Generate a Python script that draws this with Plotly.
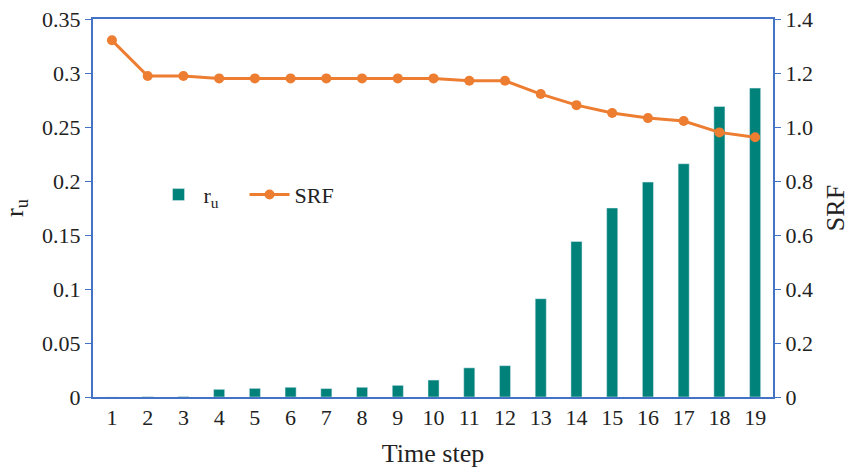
import plotly.graph_objects as go

steps = list(range(1, 20))
ru = [0.0, 0.0003, 0.0005, 0.0071, 0.008, 0.009, 0.0078, 0.009, 0.0108, 0.0157,
      0.027, 0.029, 0.091, 0.144, 0.175, 0.199, 0.216, 0.269, 0.286]
srf = [1.321, 1.189, 1.189, 1.180, 1.180, 1.180, 1.180, 1.180, 1.180, 1.180,
       1.171, 1.171, 1.122, 1.081, 1.052, 1.033, 1.022, 0.980, 0.962]

left_ticks = [0, 0.05, 0.1, 0.15, 0.2, 0.25, 0.3, 0.35]
left_text = ["0", "0.05", "0.1", "0.15", "0.2", "0.25", "0.3", "0.35"]
right_ticks = [0, 0.2, 0.4, 0.6, 0.8, 1.0, 1.2, 1.4]
right_text = ["0", "0.2", "0.4", "0.6", "0.8", "1.0", "1.2", "1.4"]

axis_col = "#4472C4"
font = dict(family="Liberation Serif", size=22, color="#222222")

fig = go.Figure()
fig.add_trace(go.Bar(x=steps, y=ru, name="r<sub>u</sub>", marker_color="#00827A",
                     width=0.31, yaxis="y"))
fig.add_trace(go.Scatter(x=steps, y=srf, name="SRF", mode="lines+markers",
                         line=dict(color="#ED7D31", width=3),
                         marker=dict(color="#ED7D31", size=10), yaxis="y2"))

fig.update_layout(
    width=865, height=471,
    margin=dict(l=93, r=92, t=19, b=74),
    plot_bgcolor="white", paper_bgcolor="white",
    font=font,
    showlegend=True,
    legend=dict(orientation="h", x=0.089, y=0.535, xanchor="left", yanchor="middle",
                itemwidth=40, entrywidth=36, bgcolor="rgba(0,0,0,0)",
                font=dict(family="Liberation Serif", size=22)),
    xaxis=dict(range=[0.47, 19.5], tickvals=steps, ticktext=[str(s) for s in steps],
               showline=True, linecolor=axis_col, linewidth=2, ticks="",
               mirror=True, showgrid=False, zeroline=False, automargin=False,
               title=dict(text="Time step", standoff=14)),
    yaxis=dict(range=[0, 0.35], tickvals=left_ticks, ticktext=left_text,
               showline=True, linecolor=axis_col, linewidth=2, ticks="outside",
               tickcolor=axis_col, ticklen=6, showgrid=False, zeroline=False,
               automargin=False, title=dict(text="r<sub>u</sub>", standoff=12)),
    yaxis2=dict(range=[0, 1.4], tickvals=right_ticks, ticktext=right_text,
                overlaying="y", side="right",
                showline=True, linecolor=axis_col, linewidth=2, ticks="outside",
                tickcolor=axis_col, ticklen=6, showgrid=False, zeroline=False,
                automargin=False, title=dict(text="SRF", standoff=14)),
    bargap=0.6,
)

fig.write_html("out.html")
